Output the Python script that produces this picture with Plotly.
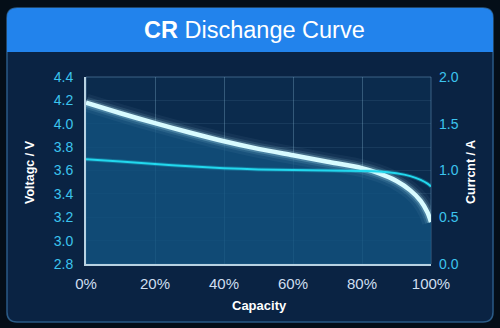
import plotly.graph_objects as go

capacity = [0, 10, 20, 30, 40, 50, 60, 70, 80, 85, 90, 94, 97, 99, 100]
voltage = [4.18, 4.09, 4.005, 3.925, 3.85, 3.785, 3.73, 3.675, 3.62, 3.575, 3.51, 3.43, 3.34, 3.24, 3.16]
current = [1.12, 1.095, 1.07, 1.045, 1.025, 1.012, 1.006, 1.0, 0.995, 0.99, 0.97, 0.94, 0.90, 0.86, 0.83]

x_ticks = [0, 20, 40, 60, 80, 100]
x_labels = ["0%", "20%", "40%", "60%", "80%", "100%"]
v_ticks = [2.8, 3.0, 3.2, 3.4, 3.6, 3.8, 4.0, 4.2, 4.4]
c_ticks = [0.0, 0.5, 1.0, 1.5, 2.0]

W, H = 500, 328
L, R, T, B = 86, 431, 77, 264

def px(x):
    return (x - L) / (R - L)

def py(y):
    return (B - y) / (B - T)

def rrect(x0, y0, x1, y1, rt, rb):
    pts = []
    pts.append(f"M{px(x0 + rt)},{py(y0)}")
    pts.append(f"L{px(x1 - rt)},{py(y0)}")
    pts.append(f"Q{px(x1)},{py(y0)} {px(x1)},{py(y0 + rt)}")
    pts.append(f"L{px(x1)},{py(y1 - rb)}")
    pts.append(f"Q{px(x1)},{py(y1)} {px(x1 - rb)},{py(y1)}")
    pts.append(f"L{px(x0 + rb)},{py(y1)}")
    pts.append(f"Q{px(x0)},{py(y1)} {px(x0)},{py(y1 - rb)}")
    pts.append(f"L{px(x0)},{py(y0 + rt)}")
    pts.append(f"Q{px(x0)},{py(y0)} {px(x0 + rt)},{py(y0)}")
    pts.append("Z")
    return " ".join(pts)

fig = go.Figure()

fig.add_trace(go.Scatter(x=capacity, y=voltage, mode="lines", line=dict(width=0, shape="spline", smoothing=0.8),
                         fill="tozeroy", fillcolor="rgba(18,82,128,0.8)", hoverinfo="skip", showlegend=False))
for w, a in [(18, 0.05), (12, 0.1), (8, 0.22)]:
    fig.add_trace(go.Scatter(x=capacity, y=voltage, mode="lines",
                             line=dict(width=w, color=f"rgba(190,245,255,{a})", shape="spline", smoothing=0.8),
                             hoverinfo="skip", showlegend=False))
fig.add_trace(go.Scatter(x=capacity, y=voltage, mode="lines", name="Voltage",
                         line=dict(width=4.5, color="#d8fbff", shape="spline", smoothing=0.8), showlegend=False))
fig.add_trace(go.Scatter(x=capacity, y=current, mode="lines", name="Current", yaxis="y2",
                         line=dict(width=4, color="rgba(30,220,240,0.25)", shape="spline", smoothing=0.8),
                         hoverinfo="skip", showlegend=False))
fig.add_trace(go.Scatter(x=capacity, y=current, mode="lines", name="Current", yaxis="y2",
                         line=dict(width=2, color="#22d8ee", shape="spline", smoothing=0.8), showlegend=False))

shapes = [
    dict(type="path", xref="paper", yref="paper", layer="below",
         path=rrect(7, 8, 493, 322, 10, 10), fillcolor="#0a2343",
         line=dict(color="#2a5a85", width=1.5)),
    dict(type="path", xref="paper", yref="paper", layer="below",
         path=rrect(7, 8, 493, 52, 10, 0), fillcolor="#2283ec",
         line=dict(width=0)),
    dict(type="rect", xref="paper", yref="paper", layer="below",
         x0=0, x1=1, y0=0, y1=1, fillcolor="#0b2b4d",
         line=dict(color="rgba(120,170,210,0.45)", width=1)),
]

fig.update_layout(
    width=W, height=H,
    margin=dict(l=L, r=W - R, t=T, b=H - B),
    paper_bgcolor="#040e18",
    plot_bgcolor="rgba(0,0,0,0)",
    shapes=shapes,
    font=dict(family="Liberation Sans, Arial, sans-serif"),
    xaxis=dict(range=[0, 100], tickvals=x_ticks, ticktext=x_labels,
               showgrid=True, gridcolor="rgba(150,195,225,0.3)", gridwidth=1,
               zeroline=False, showline=True, linecolor="#b8d2e2", linewidth=2,
               tickfont=dict(size=15, color="#cfdff0"), ticks="", ticklabelstandoff=5),
    yaxis=dict(range=[2.8, 4.4], tickvals=v_ticks, ticktext=[f"{v:.1f}" for v in v_ticks],
               showgrid=True, gridcolor="rgba(150,195,225,0.1)", gridwidth=1,
               zeroline=False, showline=True, linecolor="#b8d2e2", linewidth=2,
               tickfont=dict(size=14, color="#3cc4ee"), ticks="", ticklabelstandoff=8),
    yaxis2=dict(range=[0, 2.0], tickvals=c_ticks, ticktext=[f"{v:.1f}" for v in c_ticks],
                overlaying="y", side="right", showgrid=False, zeroline=False, showline=False,
                tickfont=dict(size=14, color="#3cc4ee"), ticks="", ticklabelstandoff=7),
    annotations=[
        dict(text="<b>CR</b> Dischange Curve", xref="paper", yref="paper",
             x=px(254), y=py(30), showarrow=False, xanchor="center", yanchor="middle",
             font=dict(size=23.5, color="white")),
        dict(text="<b>Voltagc / V</b>", xref="paper", yref="paper", textangle=-90,
             x=px(30), y=py(172), showarrow=False, xanchor="center", yanchor="middle",
             font=dict(size=12.5, color="white")),
        dict(text="<b>Currcnt / A</b>", xref="paper", yref="paper", textangle=-90,
             x=px(471), y=py(172), showarrow=False, xanchor="center", yanchor="middle",
             font=dict(size=12.5, color="white")),
        dict(text="<b>Capacity</b>", xref="paper", yref="paper",
             x=px(259), y=py(305), showarrow=False, xanchor="center", yanchor="middle",
             font=dict(size=13, color="white")),
    ],
)

fig.write_html("out.html")
